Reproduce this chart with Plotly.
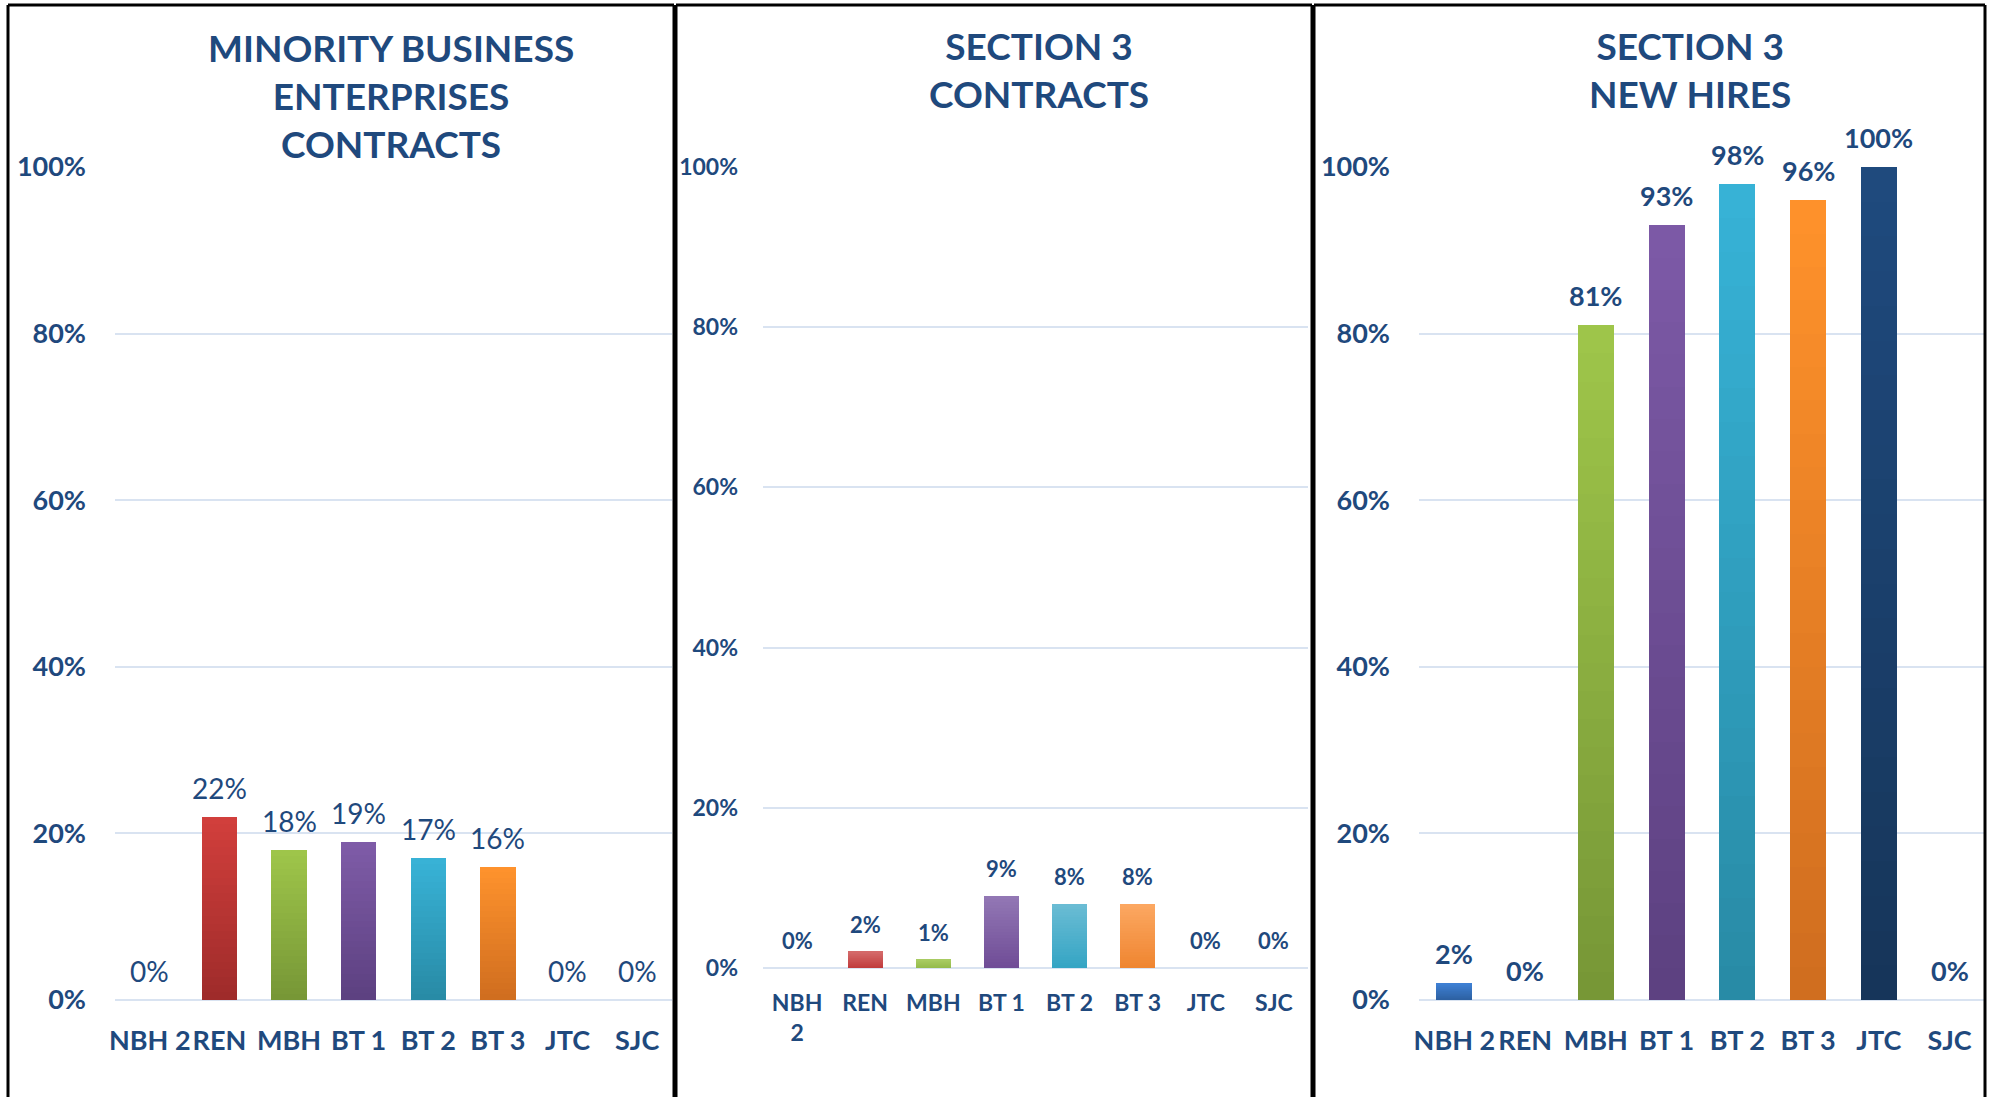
import plotly.graph_objects as go

# Canvas size in pixels
W, H = 1995, 1097

# ---- data ----
categories = ["NBH 2", "REN", "MBH", "BT 1", "BT 2", "BT 3", "JTC", "SJC"]
contracts_tick_labels = ["NBH<br>2", "REN", "MBH", "BT 1", "BT 2", "BT 3", "JTC", "SJC"]

mbe_contracts = [0, 22, 18, 19, 17, 16, 0, 0]          # percent
section3_contracts = [0, 2, 1, 9, 8, 8, 0, 0]           # percent
section3_new_hires = [2, 0, 81, 93, 98, 96, 100, 0]     # percent

titles = [
    "MINORITY BUSINESS<br>ENTERPRISES<br>CONTRACTS",
    "SECTION 3<br>CONTRACTS",
    "SECTION 3<br>NEW HIRES",
]
y_ticks = [0, 20, 40, 60, 80, 100]
y_tick_labels = ["0%", "20%", "40%", "60%", "80%", "100%"]

# ---- styling ----
TEXT = "#1F497D"
GRID = "#D9E3F1"
FONT = "Lato"

# (top, bottom) gradient colours per category
grad_1 = [("#3E80D4", "#2C5F9F"), ("#D23F3C", "#9E2B2A"), ("#9FC64A", "#769636"),
          ("#7F5CA8", "#5C4080"), ("#38B3D7", "#288AA5"), ("#FF932D", "#CF6D1F"),
          ("#1F4A7E", "#163559"), ("#888888", "#666666")]
grad_2 = [("#3E80D4", "#2C5F9F"), ("#D46A6A", "#C0393A"), ("#A8CB62", "#93BA4A"),
          ("#9378B5", "#6F4C96"), ("#6BBDD4", "#34A4C4"), ("#FCA862", "#EF8530"),
          ("#1F4A7E", "#163559"), ("#888888", "#666666")]
grad_3 = [("#3E80D4", "#2C5F9F"), ("#D23F3C", "#9E2B2A"), ("#9FC64A", "#769636"),
          ("#7D5AA7", "#5C4080"), ("#37B3D7", "#288AA5"), ("#FF922B", "#CF6D1F"),
          ("#1F4A7E", "#163559"), ("#888888", "#666666")]


def hex_to_rgb(h):
    h = h.lstrip("#")
    return tuple(int(h[i:i + 2], 16) for i in (0, 2, 4))


def mix(c_bottom, c_top, t):
    a, b = hex_to_rgb(c_bottom), hex_to_rgb(c_top)
    r = [round(a[i] + (b[i] - a[i]) * t) for i in range(3)]
    return f"rgb({r[0]},{r[1]},{r[2]})"


def px_x(x):
    return x / W


def px_y(y):
    return 1 - y / H


# panel definitions: values, gradients, plot box (px), fonts
panels = [
    dict(vals=mbe_contracts, grad=grad_1, ticks=categories,
         box=(115, 672, 167, 1000), ytick=27, xtick=27, lab=28, lab_weight="normal",
         yshift=10, ystand=28, xstand=22, title_xy=(391, 95)),
    dict(vals=section3_contracts, grad=grad_2, ticks=contracts_tick_labels,
         box=(763, 1308, 167, 968), ytick=23, xtick=23, lab=22, lab_weight="bold",
         yshift=12, ystand=24, xstand=19, title_xy=(1039, 70)),
    dict(vals=section3_new_hires, grad=grad_3, ticks=categories,
         box=(1419, 1985, 167, 1000), ytick=27, xtick=27, lab=27, lab_weight="bold",
         yshift=11, ystand=28, xstand=22, title_xy=(1690, 70)),
]

N_SLICES = 24
fig = go.Figure()
annotations = []
layout_axes = {}

for p_i, p in enumerate(panels, start=1):
    xa = "x" if p_i == 1 else f"x{p_i}"
    ya = "y" if p_i == 1 else f"y{p_i}"
    vals = p["vals"]
    # each bar is built from stacked slices to give a vertical colour gradient
    for k in range(N_SLICES):
        t = (k + 0.5) / N_SLICES
        fig.add_trace(go.Bar(
            x=categories,
            y=[v / N_SLICES for v in vals],
            marker=dict(color=[mix(b, tp, t) for tp, b in p["grad"]], line=dict(width=0)),
            xaxis=xa, yaxis=ya,
            hoverinfo="skip",
            showlegend=False,
        ))
    # value labels above each bar
    for c, v in zip(categories, vals):
        annotations.append(dict(
            x=c, y=v, xref=xa, yref=ya, text=f"{v}%", showarrow=False,
            yanchor="bottom", yshift=p["yshift"],
            font=dict(family=FONT, size=p["lab"], color=TEXT, weight=p["lab_weight"]),
        ))
    # panel title
    tx, ty = p["title_xy"]
    annotations.append(dict(
        x=px_x(tx), y=px_y(ty), xref="paper", yref="paper", text=titles[p_i - 1],
        showarrow=False, xanchor="center", yanchor="middle",
        font=dict(family=FONT, size=37, color=TEXT, weight="bold"),
    ))

    x0, x1, y0, y1 = p["box"]
    xkey = "xaxis" if p_i == 1 else f"xaxis{p_i}"
    ykey = "yaxis" if p_i == 1 else f"yaxis{p_i}"
    layout_axes[xkey] = dict(
        domain=[px_x(x0), px_x(x1)], anchor=ya,
        type="category", categoryorder="array", categoryarray=categories,
        tickmode="array", tickvals=categories, ticktext=p["ticks"], tickangle=0,
        tickfont=dict(family=FONT, size=p["xtick"], color=TEXT, weight="bold"),
        showgrid=False, showline=False, zeroline=False, ticks="",
        ticklabelstandoff=p["xstand"], fixedrange=True, automargin=False,
    )
    layout_axes[ykey] = dict(
        domain=[px_y(y1), px_y(y0)], anchor=xa,
        range=[0, 100], tickmode="array", tickvals=y_ticks, ticktext=y_tick_labels,
        tickfont=dict(family=FONT, size=p["ytick"], color=TEXT, weight="bold"),
        showgrid=True, gridcolor=GRID, gridwidth=2,
        zeroline=True, zerolinecolor=GRID, zerolinewidth=2,
        showline=False, ticks="", ticklabelstandoff=p["ystand"], fixedrange=True,
        automargin=False,
    )

# panel frames (left, top, right edges; open at the bottom)
frames = [(8, 674), (676, 1312), (1314, 1985)]
shapes = []
for fx0, fx1 in frames:
    for (ax0, ay0, ax1, ay1) in [(fx0, 5, fx0, H + 5), (fx0, 5, fx1, 5), (fx1, 5, fx1, H + 5)]:
        shapes.append(dict(type="line", xref="paper", yref="paper",
                           x0=px_x(ax0), y0=px_y(ay0), x1=px_x(ax1), y1=px_y(ay1),
                           line=dict(color="black", width=3)))

fig.update_layout(
    width=W, height=H,
    margin=dict(l=0, r=0, t=0, b=0, pad=0, autoexpand=False),
    paper_bgcolor="white", plot_bgcolor="white",
    barmode="stack", bargap=0.49,
    annotations=annotations, shapes=shapes,
    showlegend=False,
    **layout_axes,
)

# pin the figure to the top-left corner of the page
page_fix = (
    "document.body.style.margin='0';"
    "document.body.style.overflow='hidden';"
    "var el=document.getElementById('{plot_id}');"
    "el.style.position='fixed';el.style.left='0';el.style.top='0';"
)
fig.write_html("out.html", config={"displayModeBar": False}, post_script=page_fix)
